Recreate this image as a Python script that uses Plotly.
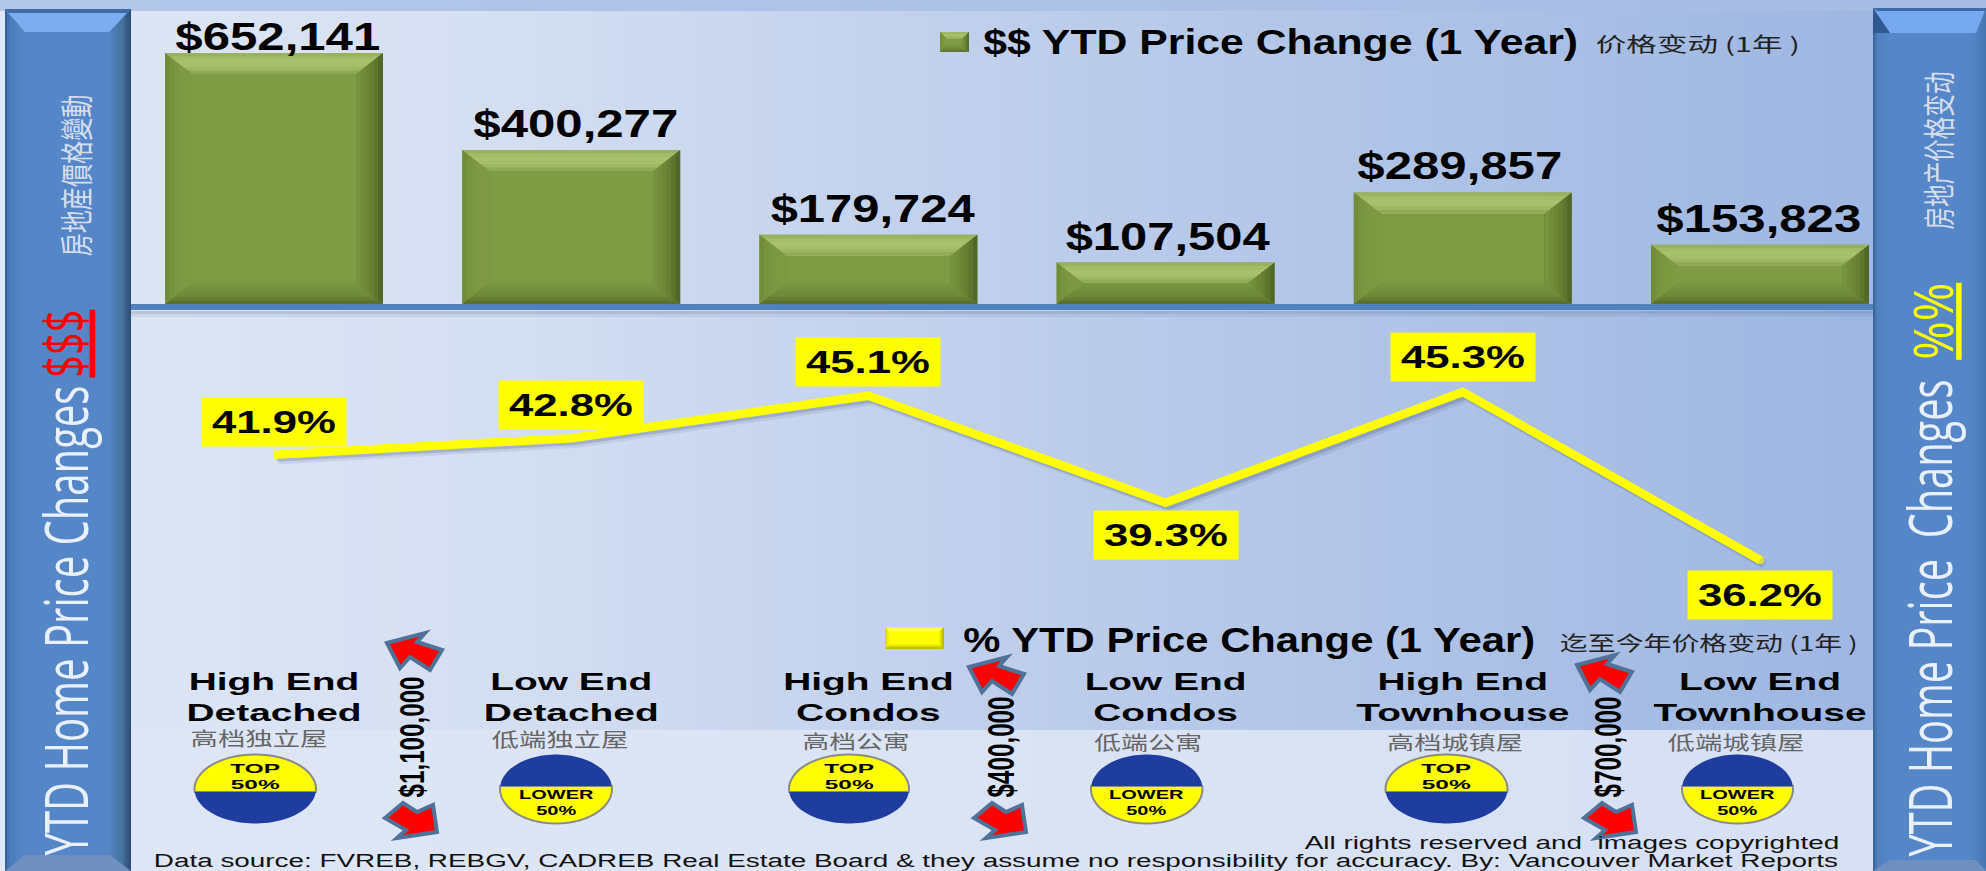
import json
import numpy as np
import plotly.graph_objects as go

# ---------- data ----------
CATEGORIES = ["High End<br>Detached", "Low End<br>Detached", "High End<br>Condos",
              "Low End<br>Condos", "High End<br>Townhouse", "Low End<br>Townhouse"]
CATEGORIES_ZH = ["高档独立屋", "低端独立屋", "高档公寓", "低端公寓", "高档城镇屋", "低端城镇屋"]
PRICE_CHANGE = [652141, 400277, 179724, 107504, 289857, 153823]
PCT_CHANGE = [41.9, 42.8, 45.1, 39.3, 45.3, 36.2]
GAP_LABELS = ["$1,100,000", "$400,000", "$700,000"]
SERIES_BAR = "$$ YTD Price Change (1 Year)"
SERIES_LINE = "% YTD Price Change (1 Year)"

# ---------- canvas helpers ----------
W, H = 1986, 871
px = lambda x: x / W
py = lambda y: 1 - y / H
BAR_PER_PX = 652141 / 251.0
LINE_PER_PX = 1 / 18.46
CAT_PX = 297.2
BAR_W = 218 / CAT_PX

shapes, anns, fit = [], [], []


def poly(points, fill, line=None, lw=0, xref="paper", yref="paper", layer="above", opacity=1):
    d = "M " + " L ".join(f"{x:.5f},{y:.5f}" for x, y in points) + " Z"
    shapes.append(dict(type="path", path=d, xref=xref, yref=yref, fillcolor=fill, layer=layer,
                       opacity=opacity, line=dict(color=line or fill, width=lw)))


def rect_px(x0, y0, x1, y1, fill, layer="above", opacity=1):
    shapes.append(dict(type="rect", xref="paper", yref="paper", x0=px(x0), x1=px(x1), y0=py(y0), y1=py(y1),
                       fillcolor=fill, layer=layer, opacity=opacity, line=dict(width=0)))


def poly_px(points, fill, **kw):
    poly([(px(x), py(y)) for x, y in points], fill, **kw)


def hex2rgb(c):
    return np.array([int(c[i:i + 2], 16) for i in (1, 3, 5)], float)


def ramp(stops, f):
    cs = np.array([hex2rgb(s) for s in stops])
    t = np.linspace(0, 1, len(stops))
    return "rgb(%d,%d,%d)" % tuple(np.interp(f, t, cs[:, k]) for k in range(3))


def hgrad(x0, x1, y0, y1, stops, step=10, layer="below"):
    xs = [s[0] for s in stops]
    cs = np.array([hex2rgb(s[1]) for s in stops])
    x = x0
    while x < x1:
        xe = min(x + step, x1)
        m = (x + xe) / 2
        col = [np.interp(m, xs, cs[:, k]) for k in range(3)]
        rect_px(x, y0, xe, y1, "rgb(%d,%d,%d)" % tuple(col), layer=layer)
        x = xe


def bevel(l, r, t, b, ix, iy, ramps, xref="paper", yref="paper", rings=6):
    """Four mitred bands, each painted as overlapping rings so that it shades from edge to face."""
    top, left, right, bottom = ramps
    sign = 1 if t > b else -1
    kw = dict(xref=xref, yref=yref)
    il, ir, it, ib = l + ix, r - ix, t - sign * iy, b + sign * iy
    for k in range(rings):
        f = k / rings
        col = (f + 0.5 / rings)
        ol, or_, ot, ob = l + f * ix, r - f * ix, t - sign * f * iy, b + sign * f * iy
        poly([(ol, ot), (or_, ot), (ir, it), (il, it)], ramp(top, col), **kw)
        poly([(ol, ot), (il, it), (il, ib), (ol, ob)], ramp(left, col), **kw)
        poly([(or_, ot), (ir, it), (ir, ib), (or_, ob)], ramp(right, col), **kw)
        poly([(ol, ob), (il, ib), (ir, ib), (or_, ob)], ramp(bottom, col), **kw)


def text(s, x, y, size, family="Liberation Sans", weight=400, color="#000000", fit_w=None,
         sy=1.0, angle=0, xref="paper", yref="paper", **extra):
    a = dict(text=s, xref=xref, yref=yref, showarrow=False, xanchor="center", yanchor="middle",
             x=px(x) if xref == "paper" else x, y=py(y) if yref == "paper" else y,
             textangle=angle, align="center",
             font=dict(family=family, size=size, weight=weight, color=color))
    a.update(extra)
    anns.append(a)
    fit.append([len(anns) - 1, fit_w, sy])


# ---------- background ----------
hgrad(0, W, 0, 11, [(0, "#B4C8EA"), (W, "#A6BCE3")], step=40)
hgrad(131, 1873, 11, 730, [(131, "#DDE6F5"), (500, "#D5DFF2"), (1000, "#BFCFEC"),
                           (1400, "#B0C4E7"), (1873, "#9EB7E2")], step=14)
hgrad(131, 1873, 730, 871, [(131, "#DFE7F6"), (1873, "#D7E1F3")], step=60)

# side panels
hgrad(5, 131, 9, 871, [(5, "#2F5A90"), (9, "#4A7BBA"), (22, "#5587C8"), (108, "#5587C8"),
                       (122, "#47739F"), (131, "#294A72")], step=2)
hgrad(1873, W, 8, 871, [(1873, "#33608F"), (1877, "#5080BE"), (1890, "#5587C8"), (1970, "#5587C8"),
                        (W, "#4676B2")], step=2)
poly_px([(5, 9), (131, 9), (109, 32), (25, 32)], "#7CADF0", layer="below")
poly_px([(5, 9), (131, 9), (127, 13), (9, 13)], "#3D6BA6", layer="below")
poly_px([(25, 855), (110, 855), (131, 871), (5, 871)], "#6F8FBF", layer="below")
poly_px([(1873, 8), (W, 8), (1976, 33), (1890, 33)], "#75A8EE", layer="below")
poly_px([(1873, 8), (W, 8), (W, 11), (1877, 11)], "#3D6BA6", layer="below")
poly_px([(1873, 8), (1890, 33), (1873, 33)], "#2F5A90", layer="below")
poly_px([(1890, 860), (1976, 860), (W, 871), (1873, 871)], "#6F8FBF", layer="below")

# soft shadow below the baseline
rect_px(131, 311, 1873, 314, "#5B6E92", opacity=0.28)
rect_px(131, 314, 1873, 317, "#5B6E92", opacity=0.12)

# ---------- bevels derived from the bar values ----------
BAR_RAMPS = (["#93AD5C", "#A9C26E", "#A5BE69", "#8AA54F"],
             ["#6E8A36", "#7A9640", "#7D9942", "#7F9B44"],
             ["#4C6024", "#637C30", "#6F8A38", "#7A9640"],
             ["#55692A", "#6C8736", "#748F3C", "#7B9741"])
YEL_RAMPS = (["#E8E800", "#FFFF80", "#FFFF40", "#FFFF00"],
             ["#D0D000", "#E8E800", "#F4F400", "#FFFF00"],
             ["#A8A800", "#C8C800", "#E0E000", "#FFFF00"],
             ["#B0B000", "#CCCC00", "#E4E400", "#FFFF00"])
for i, v in enumerate(PRICE_CHANGE):
    hpx = v / BAR_PER_PX
    bevel(i - BAR_W / 2, i + BAR_W / 2, v, 0, 27 / CAT_PX, min(21, hpx / 2) * BAR_PER_PX,
          BAR_RAMPS, xref="x", yref="y")

# line shadow, from the line values
for off, wid, op in [(5, 9, 0.10), (3, 8, 0.20)]:
    pts = [(i + off / CAT_PX, p - off * LINE_PER_PX) for i, p in enumerate(PCT_CHANGE)]
    shapes.append(dict(type="path", xref="x2", yref="y2", layer="below", opacity=op,
                       path="M " + " L ".join(f"{x:.5f},{y:.5f}" for x, y in pts),
                       line=dict(color="#34466A", width=wid)))

# legend swatches
rect_px(940, 32, 969, 52, "#7F9B44")
bevel(px(940), px(969), py(32), py(52), px(7), 7 / H, BAR_RAMPS, rings=3)
rect_px(885, 627, 944, 649, "#FFFF00")
bevel(px(885), px(944), py(627), py(649), px(5), 5 / H, YEL_RAMPS, rings=3)

# ---------- badges ----------
BLUE, YEL = "#1E3D9E", "#FFFF00"
BADGES = [(194.5, 316, 792, True), (500, 612, 786, False), (789, 909, 792, True),
          (1091, 1202.5, 786, False), (1385.5, 1507.5, 792, True), (1682, 1793, 786, False)]
for x0, x1, ydiv, is_top in BADGES:
    cx, rx = (x0 + x1) / 2, (x1 - x0) / 2
    cy, ry = 789, 34.5
    th = np.arcsin((ydiv - cy) / ry)  # where the chord meets the ellipse
    top_pts = [(cx + rx * np.cos(t), cy + ry * np.sin(t)) for t in np.linspace(np.pi - th, 2 * np.pi + th, 50)]
    bot_pts = [(cx + rx * np.cos(t), cy + ry * np.sin(t)) for t in np.linspace(th, np.pi - th, 50)]
    if is_top:
        poly_px(top_pts, YEL, line="#8A8A8A", lw=2)
        poly_px(bot_pts, BLUE)
        text("TOP<br>50%", cx, 777, 12, weight=700, fit_w=50, sy=1.05)
    else:
        poly_px(bot_pts, YEL, line="#8A8A8A", lw=2)
        poly_px(top_pts, BLUE)
        text("LOWER<br>50%", cx, 803, 12, weight=700, fit_w=75, sy=1.05)

# ---------- price-gap arrows ----------
ARROW_UP = [(387, 643), (425, 633), (417, 642), (442, 650), (430, 670), (410, 657), (400, 668)]
ARROW_DN = [(385, 818), (403, 803), (417, 812), (433, 805), (437, 832), (397, 838), (406, 830)]
GAPS = [((0, 0), (0, 0), 411, 737), ((582, 24), (589, 0), 1001, 747), ((1190, 22), (1199, 0), 1608, 747)]
GAP_LEN = [121, 101, 101]
for (ou, od, gx, gy), lab, ln in zip(GAPS, GAP_LABELS, GAP_LEN):
    poly_px([(x + ou[0], y + ou[1]) for x, y in ARROW_UP], "#FF0000", line="#4F7299", lw=4)
    poly_px([(x + od[0], y + od[1]) for x, y in ARROW_DN], "#FF0000", line="#4F7299", lw=4)
    text(lab, gx, gy, 24, weight=700, fit_w=ln, sy=1.5, angle=-90)

# ---------- texts ----------
PANEL_TXT = "#EAF0FA"
text("YTD Home Price Changes", 64, 621, 42, family="Open Sans", weight=500, color=PANEL_TXT,
     fit_w=470, sy=1.43, angle=-90)
text("<u>$$$</u>", 64, 344, 40, family="Open Sans", color="#FF0000", fit_w=68, sy=1.4, angle=-90)
text("房地産價格變動", 75, 176, 23, family="Noto Sans CJK TC", color="#D5DDEC", fit_w=162, sy=1.45, angle=-90)
text("YTD Home Price  Changes", 1928, 618, 42, family="Open Sans", weight=500, color=PANEL_TXT,
     fit_w=477, sy=1.43, angle=-90)
text("<u>%%</u>", 1932, 322, 42, family="Open Sans", color="#FFFF00", fit_w=77, sy=1.3, angle=-90)
text("房地产价格变动", 1937, 151, 23, family="Noto Sans CJK SC", color="#D5DDEC", fit_w=158, sy=1.4, angle=-90)

text(SERIES_BAR, 1280, 42, 31, weight=700, fit_w=595, sy=1.15)
text("价格变动 (1年 )", 1698, 43, 20, family="Noto Sans CJK SC", color="#222222", fit_w=204)
text(SERIES_LINE, 1249, 639.5, 31, weight=700, fit_w=572, sy=1.15)
text("迄至今年价格变动 (1年 )", 1709, 642, 20, family="Noto Sans CJK SC", color="#222222", fit_w=298)

ZH_POS = [(258.5, 737, 137), (559.5, 738, 137), (855.5, 740, 107), (1148, 741, 108), (1455, 741, 136), (1735.5, 741, 137)]
for s, (x, y, w) in zip(CATEGORIES_ZH, ZH_POS):
    text(s, x, y, 20, family="Noto Sans CJK SC", color="#666666", fit_w=w, sy=0.95)

text("All rights reserved and  images copyrighted", 1572, 843, 17, color="#111111", fit_w=535, sy=1.05)
text("Data source: FVREB, REBGV, CADREB Real Estate Board &amp; they assume no responsibility for accuracy. By: Vancouver Market Reports",
     995.5, 861, 17, color="#111111", fit_w=1685, sy=1.05)

# value labels (position follows the data)
VAL_SHIFT = [16, 26, 26, 26, 27, 26]
VAL_XSHIFT = [4, 5, 5, 2, -3, -1]
for i, v in enumerate(PRICE_CHANGE):
    text(f"${v:,}", i, v, 33, weight=700, fit_w=205, sy=1.15, xref="x", yref="y",
         xshift=VAL_XSHIFT[i], yshift=VAL_SHIFT[i])

PCT_SHIFT = [33, 33, 34, -32, 35, -35]
for i, p in enumerate(PCT_CHANGE):
    text(f"{p}%", i, p, 28, weight=700, fit_w=124, sy=1.15, xref="x2", yref="y2", yshift=PCT_SHIFT[i],
         bgcolor="#FFFF00", width=142, height=46)

# ---------- traces ----------
fig = go.Figure()
fig.add_trace(go.Bar(x=CATEGORIES, y=PRICE_CHANGE, name=SERIES_BAR, xaxis="x", yaxis="y",
                     marker=dict(color="#7F9B44", line=dict(width=0))))
fig.add_trace(go.Scatter(x=CATEGORIES, y=PCT_CHANGE, name=SERIES_LINE, xaxis="x2", yaxis="y2", mode="lines+markers",
                         line=dict(color="#FFFF00", width=8.5),
                         marker=dict(color="#FFFF00", size=[0, 0, 0, 0, 0, 8.5], line=dict(width=0))))

XR = [(131 - 274) / CAT_PX, (1873 - 274) / CAT_PX]
XD = [131 / W, 1873 / W]
fig.update_layout(
    width=W, height=H, margin=dict(l=0, r=0, t=0, b=0, pad=0), autosize=False,
    paper_bgcolor="#DFE6F5", plot_bgcolor="rgba(0,0,0,0)", showlegend=False,
    bargap=1 - BAR_W,
    xaxis=dict(domain=XD, range=XR, type="category", categoryorder="array", categoryarray=CATEGORIES,
               anchor="y", showticklabels=False, showgrid=False, zeroline=False, ticks="",
               showline=True, linewidth=6, linecolor="#4F81BD"),
    yaxis=dict(domain=[py(304), py(11)], range=[0, (304 - 11) * BAR_PER_PX], anchor="x",
               visible=False, showgrid=False, zeroline=False),
    xaxis2=dict(domain=XD, range=XR, type="category", categoryorder="array", categoryarray=CATEGORIES,
                anchor="y2", showgrid=False, zeroline=False, ticks="", showline=False, ticklabelstandoff=0,
                tickmode="array", tickvals=CATEGORIES, ticktext=CATEGORIES,
                tickfont=dict(family="Liberation Sans", size=24, weight=700, color="#000000")),
    yaxis2=dict(domain=[py(665), py(310)],
                range=[45.3 - (665 - 392) * LINE_PER_PX, 45.3 + (392 - 310) * LINE_PER_PX],
                anchor="x2", visible=False, showgrid=False, zeroline=False),
    shapes=shapes, annotations=anns,
)

post = """
document.documentElement.style.overflow='hidden';document.body.style.margin='0';document.body.style.overflow='hidden';
var FIT=%s;
function stretch(el,sx,sy){var b=el.getBBox();var cx=b.x+b.width/2,cy=b.y+b.height/2;var o=el.getAttribute('transform')||'';
el.setAttribute('transform',o+' translate('+cx+','+cy+') scale('+sx+','+sy+') translate('+(-cx)+','+(-cy)+')');}
FIT.forEach(function(f){var g=document.querySelector('.annotation[data-index="'+f[0]+'"]');if(!g)return;
var t=g.querySelector('text.annotation-text');if(!t)return;var b=t.getBBox();var sx=f[1]?f[1]/b.width:1;stretch(t,sx,f[2]);});
document.querySelectorAll('.x2tick text').forEach(function(t){stretch(t,1.62,1);});
""" % json.dumps(fit)

fig.write_html("out.html", post_script=post, config=dict(displayModeBar=False, responsive=False))
